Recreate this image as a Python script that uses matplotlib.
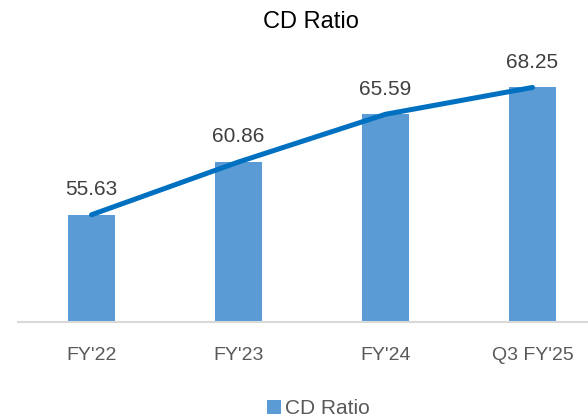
import matplotlib.pyplot as plt
import numpy as np

categories = ["FY'22", "FY'23", "FY'24", "Q3 FY'25"]
cd_ratio = [55.63, 60.86, 65.59, 68.25]

plt.rcParams['font.family'] = ['Liberation Sans', 'DejaVu Sans']

fig = plt.figure(figsize=(5.88, 4.19), dpi=100)
# plot area runs a little past the right edge, like the cropped original
ax = fig.add_axes([18 / 588, 97 / 419, 1.0, 282.5 / 419])

x = np.arange(len(categories))
ax.bar(x, cd_ratio, width=0.313, color="#5B9BD5", label="CD Ratio", zorder=2)
ax.plot(x, cd_ratio, color="#0070C0", linewidth=3.6, solid_capstyle="round", zorder=3)

for xi, v in zip(x, cd_ratio):
    ax.annotate(f"{v:.2f}", (xi, v), xytext=(0, 18), textcoords="offset points",
                ha="center", va="center", fontsize=15, color="#404040")

ax.set_xlim(-0.5, 3.5)
ax.set_ylim(45, 73)
ax.set_xticks(x)
ax.set_xticklabels(categories, fontsize=14, color="#595959")
ax.tick_params(axis="x", length=0, pad=18)
ax.set_yticks([])
for s in ["left", "right", "top"]:
    ax.spines[s].set_visible(False)
ax.spines["bottom"].set_color("#D9D9D9")
ax.spines["bottom"].set_linewidth(1.5)

fig.text(0.528, 0.9475, "CD Ratio", ha="center", va="center", fontsize=17, color="#000000")

fig.legend(loc="center", bbox_to_anchor=(0.541, 0.025), frameon=False, fontsize=15,
           handlelength=0.67, handleheight=0.65, handletextpad=0.2, labelcolor="#595959")

fig.savefig("out.png", dpi=100)
